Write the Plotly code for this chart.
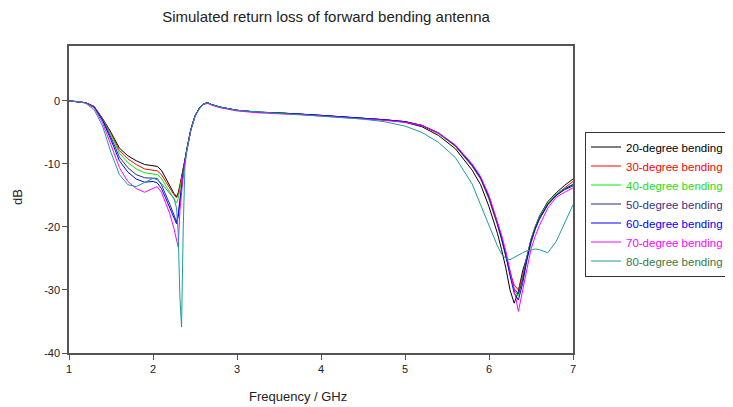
import plotly.graph_objects as go

freq = [1.0, 1.1, 1.2, 1.3, 1.4, 1.5, 1.6, 1.7, 1.8, 1.9,
        2.0, 2.05, 2.1, 2.15, 2.2, 2.25, 2.28, 2.3, 2.32, 2.34,
        2.36, 2.38, 2.4, 2.45, 2.5, 2.55, 2.6, 2.65, 2.7, 2.8,
        3.0, 3.25, 3.5, 3.75, 4.0, 4.25, 4.5, 4.75, 5.0, 5.2,
        5.4, 5.6, 5.8, 5.9, 6.0, 6.05, 6.1, 6.15, 6.2, 6.25,
        6.3, 6.35, 6.4, 6.45, 6.5, 6.55, 6.6, 6.7, 6.8, 6.9,
        7.0]

deg20 = [0, -0.1, -0.3, -0.9, -2.8, -5.0, -7.5, -8.7, -9.5, -10.1,
         -10.3, -10.4, -11.0, -12.3, -13.5, -14.7, -15.2, -14.6, -13.4, -12.0,
         -10.7, -9.2, -7.6, -4.5, -2.4, -1.2, -0.5, -0.3, -0.6, -1.0,
         -1.5, -1.8, -1.9, -2.1, -2.3, -2.5, -2.7, -3.0, -3.4, -4.1,
         -5.5, -7.6, -11.0, -13.3, -16.8, -18.9, -21.0, -23.6, -26.5, -30.0,
         -32.1, -30.2, -27.0, -24.8, -22.0, -20.0, -18.3, -16.0, -14.6, -13.4,
         -12.4]
deg30 = [0, -0.1, -0.3, -0.9, -2.9, -5.2, -7.9, -9.2, -10.1, -10.8,
         -11.0, -11.1, -11.7, -12.8, -13.8, -14.9, -15.4, -14.8, -13.6, -12.2,
         -10.8, -9.3, -7.7, -4.6, -2.4, -1.2, -0.5, -0.3, -0.6, -1.0,
         -1.5, -1.8, -1.9, -2.1, -2.3, -2.5, -2.7, -3.0, -3.3, -3.9,
         -5.2, -7.2, -10.4, -12.4, -15.6, -17.6, -19.7, -22.0, -24.6, -27.2,
         -29.2, -30.0, -27.8, -24.8, -22.0, -20.0, -18.5, -16.3, -14.9, -13.8,
         -12.8]
deg40 = [0, -0.1, -0.3, -0.9, -2.9, -5.4, -8.3, -9.8, -10.8, -11.4,
         -11.6, -11.7, -12.3, -13.4, -14.5, -15.6, -16.2, -15.5, -14.0, -12.5,
         -11.0, -9.4, -7.8, -4.6, -2.4, -1.2, -0.5, -0.3, -0.6, -1.0,
         -1.5, -1.8, -1.9, -2.1, -2.3, -2.5, -2.7, -3.0, -3.3, -3.9,
         -5.2, -7.2, -10.3, -12.3, -15.5, -17.5, -19.5, -21.9, -24.5, -27.5,
         -30.0, -31.0, -28.2, -24.8, -22.0, -20.0, -18.4, -16.2, -14.8, -13.9,
         -13.2]
deg50 = [0, -0.1, -0.3, -1.0, -3.0, -5.8, -8.9, -10.6, -11.7, -12.2,
         -12.2, -12.3, -13.3, -14.8, -16.4, -18.1, -19.2, -18.0, -15.6, -13.3,
         -11.3, -9.5, -7.8, -4.6, -2.4, -1.2, -0.5, -0.3, -0.6, -1.0,
         -1.5, -1.8, -1.9, -2.1, -2.3, -2.5, -2.7, -3.0, -3.3, -3.9,
         -5.1, -7.1, -10.2, -12.2, -15.3, -17.3, -19.4, -21.8, -24.4, -27.4,
         -29.8, -30.6, -28.4, -25.0, -22.2, -20.2, -18.6, -16.4, -15.0, -14.1,
         -13.5]
deg60 = [0, -0.1, -0.3, -1.0, -3.1, -6.2, -9.5, -11.3, -12.4, -12.9,
         -12.8, -13.0, -13.9, -15.4, -16.9, -18.5, -19.5, -18.4, -15.8, -13.5,
         -11.5, -9.6, -7.9, -4.6, -2.4, -1.2, -0.5, -0.3, -0.6, -1.0,
         -1.5, -1.8, -1.9, -2.1, -2.3, -2.5, -2.7, -3.0, -3.3, -3.9,
         -5.1, -7.1, -10.2, -12.2, -15.3, -17.3, -19.4, -21.8, -24.5, -27.7,
         -30.5, -31.6, -29.0, -25.4, -22.5, -20.4, -18.8, -16.5, -15.0, -14.0,
         -13.3]
deg70 = [0, -0.1, -0.3, -1.1, -3.5, -7.0, -10.6, -12.8, -13.9, -14.5,
         -13.9, -13.6, -14.5, -16.1, -17.9, -20.3, -22.4, -23.2, -17.5, -14.0,
         -11.8, -9.8, -8.0, -4.7, -2.5, -1.3, -0.6, -0.4, -0.7, -1.1,
         -1.6, -1.9, -2.0, -2.2, -2.4, -2.6, -2.8, -3.1, -3.4, -3.9,
         -5.1, -7.0, -10.0, -12.0, -15.0, -17.0, -19.0, -21.3, -23.8, -26.8,
         -30.0, -33.4, -30.0, -26.3, -23.5, -21.5, -19.8, -17.0, -15.3, -14.5,
         -13.8]
deg80 = [0, -0.1, -0.4, -1.4, -4.0, -8.2, -11.7, -13.3, -13.6, -12.9,
         -12.3, -12.5, -13.1, -13.9, -14.7, -15.5, -17.0, -21.0, -31.0, -35.9,
         -20.0, -10.5, -8.0, -4.7, -2.5, -1.3, -0.5, -0.3, -0.6, -1.0,
         -1.5, -1.8, -2.0, -2.2, -2.4, -2.6, -2.9, -3.3, -4.0, -5.0,
         -6.6, -9.0, -13.2, -16.5, -19.8, -21.5, -23.0, -24.3, -25.0, -25.2,
         -24.8, -24.4, -24.1, -23.8, -23.6, -23.5, -23.6, -24.1, -22.3, -19.5,
         -16.5]

series_names = ["20-degree bending", "30-degree bending", "40-degree bending",
                "50-degree bending", "60-degree bending", "70-degree bending",
                "80-degree bending"]
series_values = [deg20, deg30, deg40, deg50, deg60, deg70, deg80]
line_colors = ["#000000", "#ff0000", "#00ee00", "#2a2a88", "#0000ff", "#ff00ff", "#1f9a9a"]
text_colors = ["#000000", "#ff0000", "#22dd22", "#333388", "#0000ff", "#ff00ff", "#357a45"]

x_ticks = [1, 2, 3, 4, 5, 6, 7]
y_ticks = [-40, -30, -20, -10, 0]
y_tick_labels = ["-40", "-30", "-20", "-10", "0"]

FONT = "Liberation Sans, Arial, sans-serif"

# page body has an 8px default margin: figure is laid out in coordinates shifted by 8px
W, H = 725, 399
L, R, T, B = 61, 565, 38, 345   # plot area in figure pixels
PW, PH = R - L, B - T

fig = go.Figure()
for name, vals, lc, tc in zip(series_names, series_values, line_colors, text_colors):
    fig.add_trace(go.Scatter(
        x=freq, y=vals, mode="lines",
        name=f"<span style='color:{tc}'>{name}</span>",
        line=dict(color=lc, width=1),
    ))

axis_common = dict(
    showline=True, linecolor="#555555", linewidth=1.5, mirror=True,
    ticks="outside", ticklen=5, tickcolor="#555555", tickwidth=1,
    showgrid=False, zeroline=False,
    tickfont=dict(family=FONT, size=11, color="#222222"),
)

fig.update_layout(
    width=W, height=H,
    margin=dict(l=L, r=W - R, t=T, b=H - B, autoexpand=False),
    paper_bgcolor="white", plot_bgcolor="white",
    font=dict(family=FONT, color="#222222"),
    title=dict(text="Simulated return loss of forward bending antenna",
               x=318 / W, xanchor="center", y=1 - 9 / H, yanchor="middle",
               font=dict(family=FONT, size=15, color="#222222")),
    xaxis=dict(range=[1, 7], tickvals=x_ticks, **axis_common),
    yaxis=dict(range=[-40, 8.7], tickvals=y_ticks, ticktext=y_tick_labels, **axis_common),
    showlegend=True,
    legend=dict(
        x=(577 - L) / PW, xanchor="left",
        y=(B - 196) / PH, yanchor="middle",
        bordercolor="#333333", borderwidth=1, bgcolor="white",
        font=dict(family=FONT, size=11.5, color="#222222"),
        itemwidth=30,
        tracegroupgap=0,
    ),
    annotations=[
        dict(text="Frequency / GHz", xref="paper", yref="paper",
             x=(290 - L) / PW, y=-(388 - B) / PH, xanchor="center", yanchor="middle",
             showarrow=False, font=dict(family=FONT, size=13, color="#222222")),
        dict(text="dB", xref="paper", yref="paper",
             x=-(L - 9) / PW, y=(B - 189) / PH, xanchor="center", yanchor="middle",
             textangle=-90, showarrow=False,
             font=dict(family=FONT, size=13, color="#222222")),
    ],
)

fig.write_html("out.html")
